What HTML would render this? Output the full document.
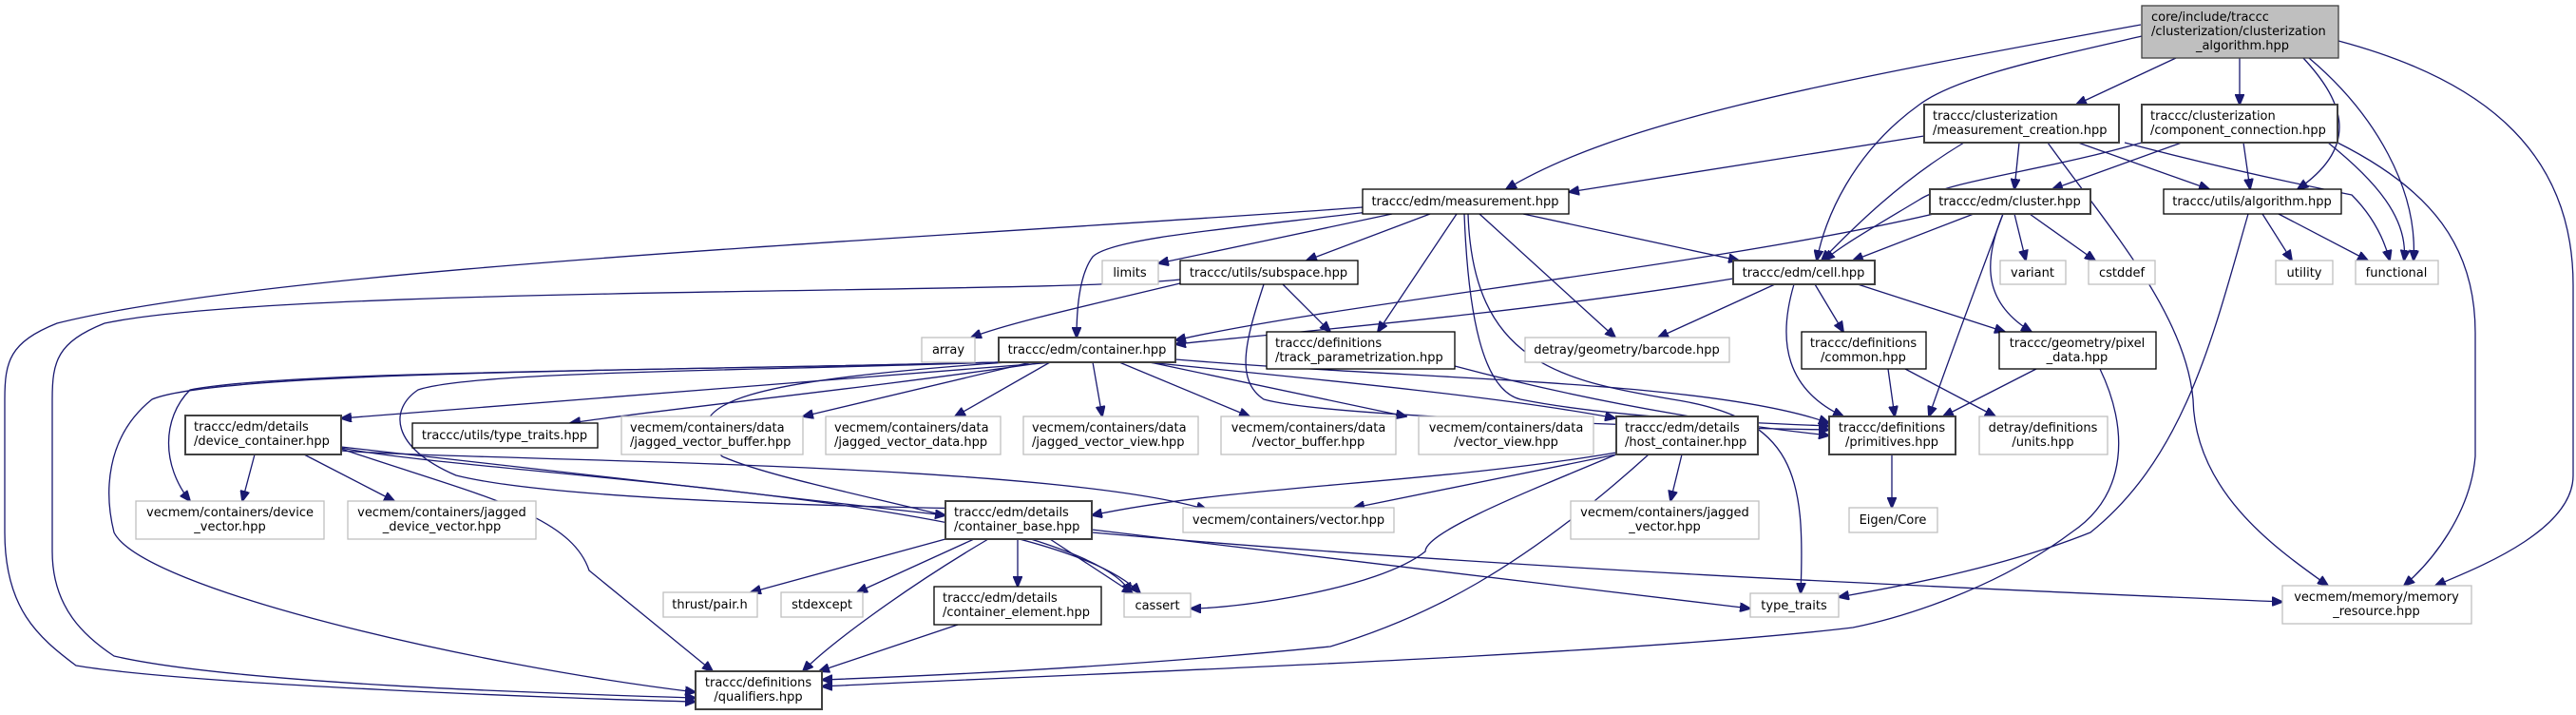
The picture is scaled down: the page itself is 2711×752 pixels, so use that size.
<!DOCTYPE html>
<html><head><meta charset="utf-8"><style>
html,body{margin:0;padding:0;background:#fff;}
svg{display:block;}
text{font-family:"DejaVu Sans","Liberation Sans",sans-serif;font-size:13px;fill:#000;}
.e{fill:none;stroke:#191970;stroke-width:1.3;marker-end:url(#a);}
.n{fill:#fff;stroke:#000;stroke-width:1.3;}
.d{fill:#fff;stroke:#404040;stroke-width:2;}
.g{fill:#fff;stroke:#bfbfbf;stroke-width:1.3;}
</style></head><body>
<svg width="2711" height="752" viewBox="0 0 2711 752" xmlns="http://www.w3.org/2000/svg">
<defs><marker id="a" markerWidth="12" markerHeight="10" refX="11" refY="5" orient="auto" markerUnits="userSpaceOnUse"><path d="M0,0 L12,5 L0,10 z" fill="#191970" stroke="#191970"/></marker></defs>

<!-- edges -->
<path class="e" d="M2253,26 C1900,90 1700,130 1585,199"/>
<path class="e" d="M2254,38 C2160,60 2060,80 2020,110 C1950,160 1920,230 1912,274"/>
<path class="e" d="M2290,61 L2185,110"/>
<path class="e" d="M2357,61 L2357,110"/>
<path class="e" d="M2424,61 C2460,100 2490,150 2418,199"/>
<path class="e" d="M2430,61 C2500,120 2545,200 2540,274"/>
<path class="e" d="M2461,43 C2600,80 2708,150 2708,300 L2708,500 C2708,560 2600,600 2563,616"/>
<path class="e" d="M2025,143 L1651,202"/>
<path class="e" d="M2067,150 C2000,190 1950,240 1917,274"/>
<path class="e" d="M2125,150 L2120,199"/>
<path class="e" d="M2187,150 L2325,199"/>
<path class="e" d="M2236,150 C2350,180 2450,200 2475,205 C2500,230 2510,255 2515,274"/>
<path class="e" d="M2155,150 C2220,240 2300,330 2308,420 C2310,520 2400,580 2450,616"/>
<path class="e" d="M2254,150 C2150,180 2050,190 2020,210 C1970,240 1935,260 1920,274"/>
<path class="e" d="M2296,150 L2160,199"/>
<path class="e" d="M2361,150 L2368,199"/>
<path class="e" d="M2450,150 C2500,190 2535,230 2530,274"/>
<path class="e" d="M2460,150 C2560,200 2605,260 2605,350 L2605,480 C2600,540 2560,590 2530,616"/>
<path class="e" d="M2077,225 L1950,274"/>
<path class="e" d="M2035,225 C1800,280 1400,320 1237,358"/>
<path class="e" d="M2120,225 L2132,274"/>
<path class="e" d="M2136,225 L2205,274"/>
<path class="e" d="M2108,225 C2085,280 2090,320 2138,349"/>
<path class="e" d="M2108,225 C2080,300 2050,380 2030,438"/>
<path class="e" d="M2381,225 L2412,274"/>
<path class="e" d="M2398,225 L2492,274"/>
<path class="e" d="M2366,225 C2330,350 2300,480 2200,560 C2100,600 1980,620 1935,628"/>
<path class="e" d="M1603,225 L1830,274"/>
<path class="e" d="M1465,225 L1219,277"/>
<path class="e" d="M1505,225 L1375,274"/>
<path class="e" d="M1457,221 C1300,240 1170,250 1150,270 C1135,290 1133,330 1133,355"/>
<path class="e" d="M1533,225 L1450,349"/>
<path class="e" d="M1557,225 L1700,355"/>
<path class="e" d="M1541,225 C1545,330 1560,410 1600,420 C1700,440 1850,445 1925,448"/>
<path class="e" d="M1545,225 C1550,380 1640,400 1760,420 C1890,440 1900,500 1895,624"/>
<path class="e" d="M1434,218 C1000,250 300,280 60,340 C10,360 5,380 5,420 L5,560 C5,640 40,670 80,700 C200,720 600,735 732,738"/>
<path class="e" d="M1242,294 C1100,310 300,300 110,340 C60,360 55,380 55,420 L55,580 C55,640 90,670 120,690 C250,720 600,730 732,734"/>
<path class="e" d="M1242,298 C1150,320 1060,340 1022,355"/>
<path class="e" d="M1350,299 L1400,349"/>
<path class="e" d="M1330,299 C1310,360 1300,400 1330,420 C1400,440 1800,450 1925,452"/>
<path class="e" d="M1824,293 C1600,330 1350,350 1237,362"/>
<path class="e" d="M1868,299 L1745,355"/>
<path class="e" d="M1910,299 L1940,349"/>
<path class="e" d="M1955,299 L2110,349"/>
<path class="e" d="M1888,299 C1870,360 1880,410 1940,438"/>
<path class="e" d="M1531,385 C1700,430 1850,450 1925,458"/>
<path class="e" d="M1987,388 L1994,438"/>
<path class="e" d="M2005,388 L2100,438"/>
<path class="e" d="M2143,388 L2045,438"/>
<path class="e" d="M2210,388 C2240,450 2240,520 2180,560 C2100,620 2000,650 1950,660 C1700,690 1100,710 865,722"/>
<path class="e" d="M1991,478 L1991,534"/>
<path class="e" d="M1110,381 L359,440"/>
<path class="e" d="M1100,381 C900,410 700,430 600,445"/>
<path class="e" d="M1085,381 L845,438"/>
<path class="e" d="M1105,381 L1005,438"/>
<path class="e" d="M1150,381 L1160,438"/>
<path class="e" d="M1178,381 L1315,438"/>
<path class="e" d="M1210,381 L1480,438"/>
<path class="e" d="M1207,381 C1400,400 1600,420 1700,440"/>
<path class="e" d="M1237,378 C1500,400 1800,400 1925,445"/>
<path class="e" d="M1050,381 C700,390 300,390 200,410 C170,440 170,490 200,527"/>
<path class="e" d="M1050,381 C700,390 230,390 160,420 C110,460 110,520 120,560 C150,620 500,700 732,728"/>
<path class="e" d="M1050,381 C800,390 500,390 440,410 C410,430 410,470 480,500 C600,530 1000,535 1149,537"/>
<path class="e" d="M1060,381 C800,400 700,420 760,480 C850,520 1160,560 1190,624"/>
<path class="e" d="M268,478 L255,527"/>
<path class="e" d="M320,478 L415,527"/>
<path class="e" d="M359,470 L995,542"/>
<path class="e" d="M359,474 C500,485 1100,485 1270,536"/>
<path class="e" d="M359,471 C500,500 1100,520 1200,624"/>
<path class="e" d="M359,472 C500,520 600,540 620,600 L750,706"/>
<path class="e" d="M1701,478 L1425,534"/>
<path class="e" d="M1701,476 C1500,510 1300,510 1149,542"/>
<path class="e" d="M1701,478 C1600,520 1500,560 1500,580 C1450,620 1300,640 1253,640"/>
<path class="e" d="M1735,478 C1600,600 1500,650 1400,680 C1200,700 1000,710 865,715"/>
<path class="e" d="M1770,478 L1758,527"/>
<path class="e" d="M995,567 L790,623"/>
<path class="e" d="M1025,567 L902,623"/>
<path class="e" d="M1071,567 L1071,617"/>
<path class="e" d="M1040,567 C950,620 870,680 845,706"/>
<path class="e" d="M1105,567 L1192,624"/>
<path class="e" d="M1149,557 L1842,640"/>
<path class="e" d="M1149,560 C1600,600 2100,620 2402,633"/>
<path class="e" d="M1008,657 L862,706"/>

<!-- nodes -->
<rect x="2254" y="6" width="207" height="55" fill="#bfbfbf" stroke="#404040" stroke-width="1.3"/>
<text x="2264" y="22">core/include/traccc</text><text x="2264" y="37">/clusterization/clusterization</text><text x="2360" y="52" text-anchor="middle">_algorithm.hpp</text>

<rect class="d" x="2025" y="110" width="205" height="40"/><text x="2034" y="126">traccc/clusterization</text><text x="2034" y="141">/measurement_creation.hpp</text>
<rect class="d" x="2254" y="110" width="206" height="40"/><text x="2263" y="126">traccc/clusterization</text><text x="2263" y="141">/component_connection.hpp</text>
<rect class="d" x="2031" y="199" width="169" height="26"/><text x="2115" y="216" text-anchor="middle">traccc/edm/cluster.hpp</text>
<rect class="n" x="2277" y="199" width="187" height="26"/><text x="2370" y="216" text-anchor="middle">traccc/utils/algorithm.hpp</text>
<rect class="g" x="2105" y="274" width="69" height="25"/><text x="2139" y="291" text-anchor="middle">variant</text>
<rect class="g" x="2198" y="274" width="70" height="25"/><text x="2233" y="291" text-anchor="middle">cstddef</text>
<rect class="g" x="2395" y="274" width="60" height="25"/><text x="2425" y="291" text-anchor="middle">utility</text>
<rect class="g" x="2479" y="274" width="87" height="25"/><text x="2522" y="291" text-anchor="middle">functional</text>
<rect class="d" x="1824" y="274" width="149" height="25"/><text x="1898" y="291" text-anchor="middle">traccc/edm/cell.hpp</text>
<rect class="n" x="1434" y="199" width="217" height="26"/><text x="1542" y="216" text-anchor="middle">traccc/edm/measurement.hpp</text>
<rect class="g" x="1160" y="274" width="59" height="25"/><text x="1189" y="291" text-anchor="middle">limits</text>
<rect class="n" x="1242" y="274" width="187" height="25"/><text x="1335" y="291" text-anchor="middle">traccc/utils/subspace.hpp</text>
<rect class="g" x="970" y="355" width="56" height="26"/><text x="998" y="372" text-anchor="middle">array</text>
<rect class="d" x="1051" y="355" width="186" height="26"/><text x="1144" y="372" text-anchor="middle">traccc/edm/container.hpp</text>
<rect class="n" x="1333" y="349" width="198" height="39"/><text x="1342" y="365">traccc/definitions</text><text x="1342" y="380">/track_parametrization.hpp</text>
<rect class="g" x="1605" y="355" width="215" height="26"/><text x="1712" y="372" text-anchor="middle">detray/geometry/barcode.hpp</text>
<rect class="n" x="1896" y="349" width="131" height="39"/><text x="1961" y="365" text-anchor="middle">traccc/definitions</text><text x="1961" y="380" text-anchor="middle">/common.hpp</text>
<rect class="n" x="2104" y="349" width="165" height="39"/><text x="2186" y="365" text-anchor="middle">traccc/geometry/pixel</text><text x="2186" y="380" text-anchor="middle">_data.hpp</text>
<rect class="d" x="1925" y="438" width="133" height="40"/><text x="1991" y="454" text-anchor="middle">traccc/definitions</text><text x="1991" y="469" text-anchor="middle">/primitives.hpp</text>
<rect class="g" x="2083" y="438" width="135" height="40"/><text x="2150" y="454" text-anchor="middle">detray/definitions</text><text x="2150" y="469" text-anchor="middle">/units.hpp</text>
<rect class="g" x="1946" y="534" width="93" height="26"/><text x="1992" y="551" text-anchor="middle">Eigen/Core</text>
<rect class="d" x="1701" y="438" width="149" height="40"/><text x="1710" y="454">traccc/edm/details</text><text x="1710" y="469">/host_container.hpp</text>
<rect class="g" x="1493" y="438" width="184" height="40"/><text x="1585" y="454" text-anchor="middle">vecmem/containers/data</text><text x="1585" y="469" text-anchor="middle">/vector_view.hpp</text>
<rect class="g" x="1285" y="438" width="184" height="40"/><text x="1377" y="454" text-anchor="middle">vecmem/containers/data</text><text x="1377" y="469" text-anchor="middle">/vector_buffer.hpp</text>
<rect class="g" x="1077" y="438" width="184" height="40"/><text x="1086" y="454">vecmem/containers/data</text><text x="1086" y="469">/jagged_vector_view.hpp</text>
<rect class="g" x="869" y="438" width="184" height="40"/><text x="878" y="454">vecmem/containers/data</text><text x="878" y="469">/jagged_vector_data.hpp</text>
<rect class="g" x="654" y="438" width="191" height="40"/><text x="663" y="454">vecmem/containers/data</text><text x="663" y="469">/jagged_vector_buffer.hpp</text>
<rect class="n" x="434" y="445" width="195" height="26"/><text x="531" y="462" text-anchor="middle">traccc/utils/type_traits.hpp</text>
<rect class="d" x="195" y="437" width="164" height="41"/><text x="204" y="453">traccc/edm/details</text><text x="204" y="468">/device_container.hpp</text>
<rect class="g" x="143" y="527" width="198" height="40"/><text x="242" y="543" text-anchor="middle">vecmem/containers/device</text><text x="242" y="558" text-anchor="middle">_vector.hpp</text>
<rect class="g" x="366" y="527" width="198" height="40"/><text x="465" y="543" text-anchor="middle">vecmem/containers/jagged</text><text x="465" y="558" text-anchor="middle">_device_vector.hpp</text>
<rect class="d" x="995" y="527" width="154" height="40"/><text x="1004" y="543">traccc/edm/details</text><text x="1004" y="558">/container_base.hpp</text>
<rect class="g" x="1245" y="534" width="222" height="26"/><text x="1356" y="551" text-anchor="middle">vecmem/containers/vector.hpp</text>
<rect class="g" x="1653" y="527" width="198" height="40"/><text x="1752" y="543" text-anchor="middle">vecmem/containers/jagged</text><text x="1752" y="558" text-anchor="middle">_vector.hpp</text>
<rect class="g" x="698" y="623" width="99" height="26"/><text x="747" y="640" text-anchor="middle">thrust/pair.h</text>
<rect class="g" x="822" y="623" width="86" height="26"/><text x="865" y="640" text-anchor="middle">stdexcept</text>
<rect class="n" x="983" y="617" width="176" height="40"/><text x="992" y="633">traccc/edm/details</text><text x="992" y="648">/container_element.hpp</text>
<rect class="g" x="1183" y="624" width="70" height="25"/><text x="1218" y="641" text-anchor="middle">cassert</text>
<rect class="g" x="1842" y="624" width="93" height="25"/><text x="1888" y="641" text-anchor="middle">type_traits</text>
<rect class="g" x="2402" y="616" width="199" height="40"/><text x="2501" y="632" text-anchor="middle">vecmem/memory/memory</text><text x="2501" y="647" text-anchor="middle">_resource.hpp</text>
<rect class="d" x="732" y="706" width="133" height="40"/><text x="798" y="722" text-anchor="middle">traccc/definitions</text><text x="798" y="737" text-anchor="middle">/qualifiers.hpp</text>
</svg>
</body></html>
